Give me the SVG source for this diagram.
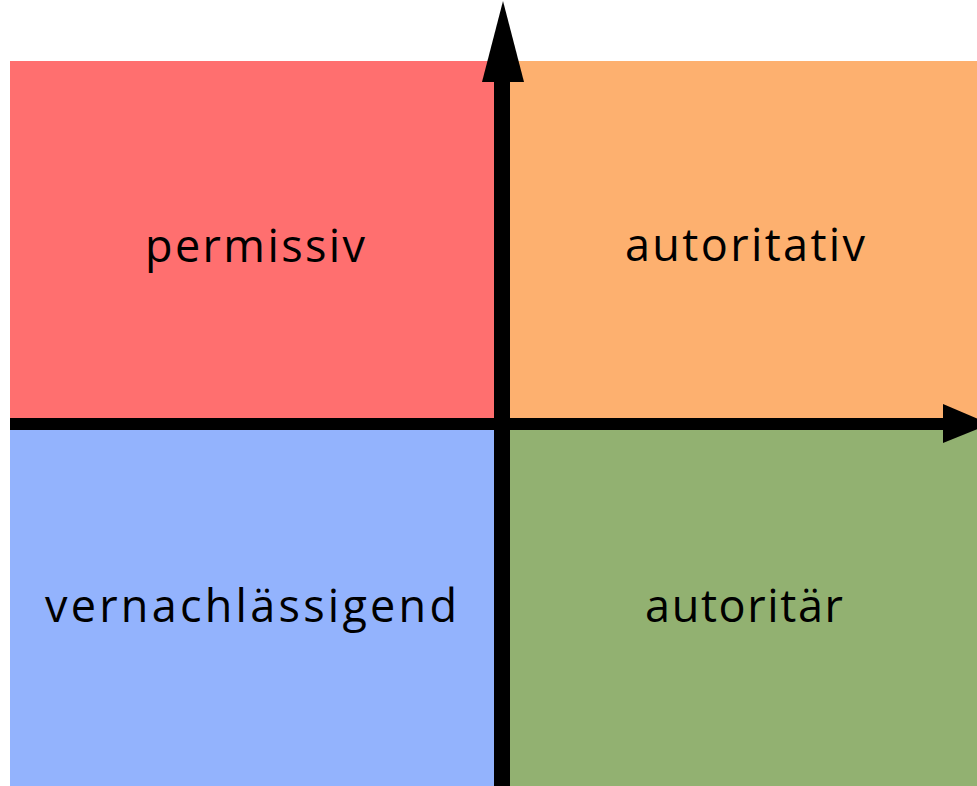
<svg xmlns="http://www.w3.org/2000/svg" width="977" height="786" viewBox="0 0 977 786">
  <style>
    .lbl { font-family: "Open Sans", "DejaVu Sans", sans-serif; font-size: 45px; fill: #000; text-anchor: middle; }
    .axis { fill: #000; }
  </style>
  <rect width="977" height="786" fill="#ffffff"/>
  <g id="permissiv">
    <rect x="10" y="61" width="488" height="361" fill="#ff6f6f"/>
    <text class="lbl" x="255" y="262" textLength="220" lengthAdjust="spacing">permissiv</text>
  </g>
  <g id="autoritativ">
    <rect x="506" y="61" width="471" height="361" fill="#fdb06f"/>
    <text class="lbl" x="745" y="261" textLength="240" lengthAdjust="spacing">autoritativ</text>
  </g>
  <g id="vernachlaessigend">
    <rect x="10" y="426" width="488" height="360" fill="#93b3fd"/>
    <text class="lbl" x="251" y="622" textLength="412" lengthAdjust="spacing">vernachlässigend</text>
  </g>
  <g id="autoritaer">
    <rect x="506" y="426" width="471" height="360" fill="#92b171"/>
    <text class="lbl" x="744" y="622" textLength="198" lengthAdjust="spacing">autoritär</text>
  </g>
  <g id="connectors">
    <rect class="axis" x="494" y="78" width="16" height="708"/>
    <path class="axis" d="M503,1 L482,82 L524,82 Z"/>
    <rect class="axis" x="10" y="418" width="940" height="12"/>
    <path class="axis" d="M943,404 L990,424 L943,443 Z"/>
  </g>
</svg>
